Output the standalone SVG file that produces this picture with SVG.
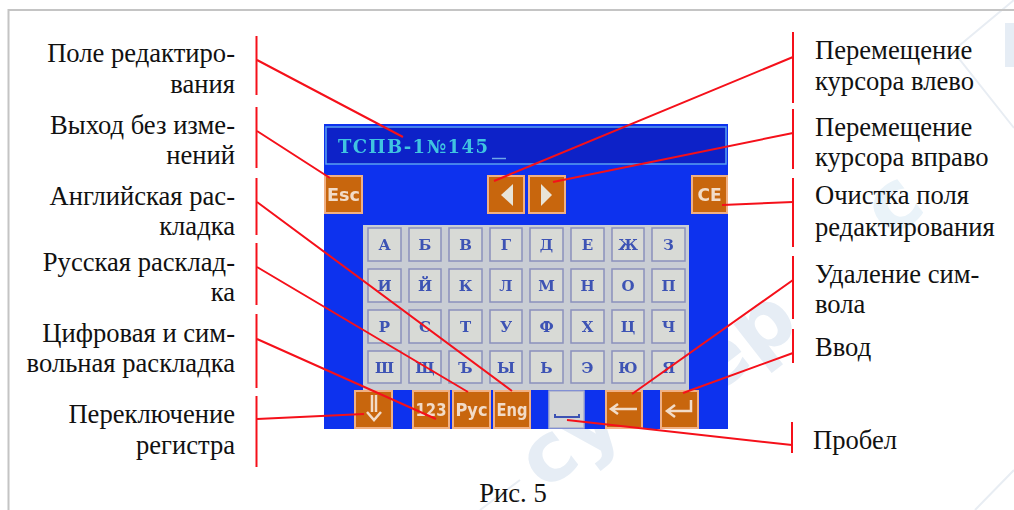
<svg xmlns="http://www.w3.org/2000/svg" width="1014" height="510" viewBox="0 0 1014 510">
<style>
.lbl{font-family:"Liberation Serif","Times New Roman",serif;font-size:26.600px;fill:#111}
.r{text-anchor:end}
.ln{stroke:#f5101a;stroke-width:2;fill:none}
.wm{font-family:"DejaVu Sans",sans-serif;font-weight:bold;font-size:82px;fill:#e6edf5}
.key rect{fill:#d8dad6;stroke:#8a90bc;stroke-width:1.5}
.key text{font-family:"DejaVu Serif",serif;font-weight:bold;font-size:15px;fill:#3c52b4;text-anchor:middle}
.btn rect{fill:#c8660f;stroke:#f0b084;stroke-width:2}
.btn text{font-family:"DejaVu Sans",sans-serif;font-weight:bold;font-size:17px;fill:#f2dcc8;text-anchor:middle}
.btn path{fill:none;stroke:#f2dcc8;stroke-width:2.5}
.btn polygon{fill:#e8e4d8}
</style>
<defs><filter id="soft" x="-2%" y="-2%" width="104%" height="104%"><feGaussianBlur stdDeviation="0.6"/></filter></defs>
<rect width="1014" height="510" fill="#fff"/>
<g id="watermark">
<path d="M1014 0L960 45Q952 52 960 60L1014 128" fill="none" stroke="#e8edf3" stroke-width="2"/>
<path d="M480 510L520 480M1014 470L975 510" fill="none" stroke="#e8edf3" stroke-width="2"/>
<text class="wm" transform="translate(545 492) rotate(-38)">cy</text>
<text class="wm" transform="translate(712 398) rotate(-38)">ep</text>
<text class="wm" transform="translate(890 240) rotate(-38)" style="fill:#eaf3f9">c</text>
<rect x="1005" y="23" width="9" height="44" fill="#e6edf5"/>
</g>
<path id="frame" d="M1014 10H8.500V510" fill="none" stroke="#c4c4c4" stroke-width="2"/>
<g id="screen" filter="url(#soft)">
<rect x="324" y="124" width="404" height="305" fill="#0a30ee"/>
<g id="edit-field">
<rect x="326" y="127" width="400" height="37" fill="#0a20c8" stroke="#5aa0f0" stroke-width="1.500"/>
<text x="338" y="153" font-family="'DejaVu Serif',serif" font-weight="bold" font-size="18" textLength="150" lengthAdjust="spacing" fill="#40c4e0">ТСПВ-1№145</text>
<path d="M492 158.500H506" stroke="#6fa8e8" stroke-width="1.500"/>
</g>
<rect x="363" y="225" width="326" height="165" fill="#c9cdd4"/>
<g class="key">
<rect x="368" y="228" width="33" height="33"/><text x="384.500" y="250">А</text>
<rect x="409" y="228" width="32" height="33"/><text x="425" y="250">Б</text>
<rect x="449" y="228" width="33" height="33"/><text x="465.500" y="250">В</text>
<rect x="490" y="228" width="32" height="33"/><text x="506" y="250">Г</text>
<rect x="530" y="228" width="33" height="33"/><text x="546.500" y="250">Д</text>
<rect x="571" y="228" width="33" height="33"/><text x="587.500" y="250">Е</text>
<rect x="612" y="228" width="32" height="33"/><text x="628" y="250">Ж</text>
<rect x="652" y="228" width="33" height="33"/><text x="668.500" y="250">З</text>
<rect x="368" y="269" width="33" height="33"/><text x="384.500" y="291">И</text>
<rect x="409" y="269" width="32" height="33"/><text x="425" y="291">Й</text>
<rect x="449" y="269" width="33" height="33"/><text x="465.500" y="291">К</text>
<rect x="490" y="269" width="32" height="33"/><text x="506" y="291">Л</text>
<rect x="530" y="269" width="33" height="33"/><text x="546.500" y="291">М</text>
<rect x="571" y="269" width="33" height="33"/><text x="587.500" y="291">Н</text>
<rect x="612" y="269" width="32" height="33"/><text x="628" y="291">О</text>
<rect x="652" y="269" width="33" height="33"/><text x="668.500" y="291">П</text>
<rect x="368" y="310" width="33" height="33"/><text x="384.500" y="332">Р</text>
<rect x="409" y="310" width="32" height="33"/><text x="425" y="332">С</text>
<rect x="449" y="310" width="33" height="33"/><text x="465.500" y="332">Т</text>
<rect x="490" y="310" width="32" height="33"/><text x="506" y="332">У</text>
<rect x="530" y="310" width="33" height="33"/><text x="546.500" y="332">Ф</text>
<rect x="571" y="310" width="33" height="33"/><text x="587.500" y="332">Х</text>
<rect x="612" y="310" width="32" height="33"/><text x="628" y="332">Ц</text>
<rect x="652" y="310" width="33" height="33"/><text x="668.500" y="332">Ч</text>
<rect x="368" y="351" width="33" height="32"/><text x="384.500" y="373">Ш</text>
<rect x="409" y="351" width="32" height="32"/><text x="425" y="373">Щ</text>
<rect x="449" y="351" width="33" height="32"/><text x="465.500" y="373">Ъ</text>
<rect x="490" y="351" width="32" height="32"/><text x="506" y="373">Ы</text>
<rect x="530" y="351" width="33" height="32"/><text x="546.500" y="373">Ь</text>
<rect x="571" y="351" width="33" height="32"/><text x="587.500" y="373">Э</text>
<rect x="612" y="351" width="32" height="32"/><text x="628" y="373">Ю</text>
<rect x="652" y="351" width="33" height="32"/><text x="668.500" y="373">Я</text>
</g>
<g id="btn-esc" class="btn"><rect x="325" y="176" width="37" height="37"/><text x="343.500" y="201" textLength="33" lengthAdjust="spacingAndGlyphs">Esc</text></g>
<g id="btn-left" class="btn"><rect x="488" y="176" width="36" height="37"/><polygon points="501,195 513,184 513,206"/></g>
<g id="btn-right" class="btn"><rect x="529" y="176" width="36" height="37"/><polygon points="552,195 541,184 541,206"/></g>
<g id="btn-ce" class="btn"><rect x="692" y="176" width="35" height="37"/><text x="709.500" y="201">CE</text></g>
<g id="btn-shift" class="btn"><rect x="355" y="391" width="37" height="37"/><path d="M372 395V412M376 395V412M367 412L374 420L381 412"/></g>
<g id="btn-123" class="btn"><rect x="413" y="391" width="36" height="37"/><text x="431" y="416" textLength="31" lengthAdjust="spacingAndGlyphs">123</text></g>
<g id="btn-rus" class="btn"><rect x="453" y="391" width="37" height="37"/><text x="471.500" y="416" textLength="32" lengthAdjust="spacingAndGlyphs">Рус</text></g>
<g id="btn-eng" class="btn"><rect x="494" y="391" width="36" height="37"/><text x="512" y="416" textLength="31" lengthAdjust="spacingAndGlyphs">Eng</text></g>
<g id="btn-space"><rect x="549" y="391" width="35" height="37" fill="#d4d6d6" stroke="#aab0cc" stroke-width="1.500"/><path d="M555 414V417H579V414" fill="none" stroke="#3c52b4" stroke-width="2"/></g>
<g id="btn-bksp" class="btn"><rect x="606" y="391" width="36" height="37"/><path d="M612 409H637M618 404L611 409L618 414"/></g>
<g id="btn-enter" class="btn"><rect x="661" y="391" width="37" height="37"/><path d="M691 400V411H669M675 405L667 411L675 417"/></g>
</g>
<g id="connectors">
<path class="ln" d="M256.500 36V95M256.500 107V168M256.500 178V235M256.500 243V305M256.500 314V388M256.500 396V467"/>
<path class="ln" d="M793 32V103M793 109V169M793 178V247M793 256V319M793 329V363M792 422V453"/>
<path class="ln" d="M257 60L403 137M257 131L330 178M257 202L512 391M257 267L468 392M257 339L436 419M257 419L364 414"/>
<path class="ln" d="M793 57L494 181M793 133L553 182M793 202L722 205M793 280L632 394M793 353L683 393M792 445L567 420"/>
</g>
<g id="label-edit" class="lbl r"><text x="235" y="62">Поле редактиро-</text><text x="235" y="93">вания</text></g>
<g id="label-exit" class="lbl r"><text x="235" y="134">Выход без изме-</text><text x="235" y="164">нений</text></g>
<g id="label-eng" class="lbl r"><text x="235" y="205">Английская рас-</text><text x="235" y="235">кладка</text></g>
<g id="label-rus" class="lbl r"><text x="235" y="271">Русская расклад-</text><text x="235" y="301">ка</text></g>
<g id="label-num" class="lbl r"><text x="235" y="342">Цифровая и сим-</text><text x="235" y="372">вольная раскладка</text></g>
<g id="label-shift" class="lbl r"><text x="235" y="423">Переключение</text><text x="235" y="454">регистра</text></g>
<g id="label-left" class="lbl"><text x="815" y="59">Перемещение</text><text x="815" y="90">курсора влево</text></g>
<g id="label-right" class="lbl"><text x="815" y="136">Перемещение</text><text x="815" y="166">курсора вправо</text></g>
<g id="label-clear" class="lbl"><text x="815" y="204">Очистка поля</text><text x="815" y="236">редактирования</text></g>
<g id="label-del" class="lbl"><text x="815" y="283">Удаление сим-</text><text x="815" y="313">вола</text></g>
<g id="label-enter" class="lbl"><text x="815" y="356">Ввод</text></g>
<g id="label-space" class="lbl"><text x="813" y="449">Пробел</text></g>
<text id="caption" class="lbl" x="513" y="502" text-anchor="middle">Рис. 5</text>
</svg>
